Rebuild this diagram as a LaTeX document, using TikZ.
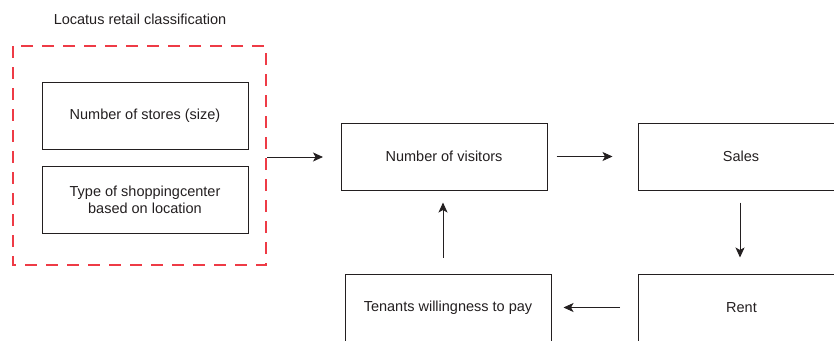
\documentclass[tikz,border=0pt]{standalone}
\usepackage{fontspec}
\setmainfont{Liberation Sans}
\usetikzlibrary{arrows.meta}
\definecolor{ink}{HTML}{231F20}
\definecolor{dashred}{HTML}{EE3B46}
\begin{document}
\begin{tikzpicture}[x=1pt,y=-1pt,
  box/.style={draw=ink,line width=1pt,minimum width=206pt,minimum height=67pt,inner sep=0pt,align=center,text=ink,font=\fontsize{14.5}{17}\selectfont},
  conn/.style={draw=ink,line width=0.9pt,-{Stealth[length=10pt,width=9pt,inset=2.5pt]}},
  lbl/.style={text=ink,font=\fontsize{14.5}{17}\selectfont}]
\useasboundingbox (0,0) rectangle (834,340);
\clip (0,0) rectangle (834,340);
\node[lbl] (title) at (140,19) {Locatus retail classification};
\draw[dashred,line width=1.1pt,dash pattern=on 12pt off 9pt] (13,46) rectangle (266,265);
\coordinate (grpright) at (267,157);
\node[box] (stores) at (145,115.5) {Number of stores (size)};
\node[box] (type) at (145,199.5) {Type of shoppingcenter\\based on location};
\node[box] (visitors) at (444,156.5) {Number of visitors};
\node[box] (sales) at (741,156.5) {Sales};
\node[box] (rent) at (741.5,307.5) {Rent};
\node[box] (tenants) at (448,307.5) {Tenants willingness to pay};
\coordinate (a1e) at (323,157);
\draw[conn] (grpright) -- (a1e);
\draw[conn] ([xshift=9pt]visitors.east) -- ([xshift=-25pt]sales.west);
\draw[conn] ([xshift=-1pt,yshift=-12pt]sales.south) -- ([xshift=-1.5pt,yshift=16pt]rent.north);
\draw[conn] ([xshift=-18pt]rent.west) -- ([xshift=12pt]tenants.east);
\draw[conn] ([xshift=-5pt,yshift=16pt]tenants.north) -- ([xshift=-1pt,yshift=-12pt]visitors.south);
\end{tikzpicture}
\end{document}
